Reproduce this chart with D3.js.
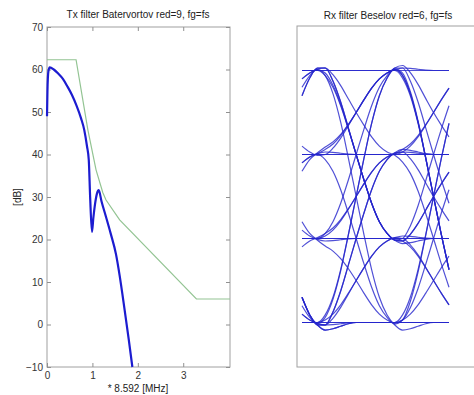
<!DOCTYPE html>
<html>
<head>
<meta charset="utf-8">
<script src="https://cdn.jsdelivr.net/npm/d3@7"></script>
<style>
  body { margin: 0; background: #fff; }
  text { font-family: "Liberation Sans", Arial, sans-serif; }
</style>
</head>
<body>
<div id="app"></div>
<script>
const WIDTH = 474
const HEIGHT = 395

// Tx spectrum (blue) and mask (green), x in units of 8.592 MHz
const specX  = [0, 0.01, 0.03, 0.06, 0.15, 0.25, 0.35, 0.45, 0.55, 0.65, 0.75, 0.82, 0.88, 0.92, 0.95, 0.99, 1.02, 1.06, 1.1, 1.14, 1.2, 1.3, 1.4, 1.52, 1.6, 1.71, 1.8, 1.88]
const specDb = [49, 55, 59.5, 60.5, 60, 59, 57.8, 56, 54, 51.5, 48.5, 45.8, 42, 38.7, 30, 21.8, 25, 28.5, 30.8, 31.6, 29, 25.3, 21.5, 16.5, 11.5, 3.4, -3.5, -10]
const maskX  = [0, 0.64, 0.9, 1.08, 1.23, 1.3, 1.6, 3.29, 4.03]
const maskDb = [62.3, 62.3, 45.8, 36.4, 31, 29.3, 24.6, 6, 6]
const xTicks = [0, 1, 2, 3]
const yTicks = [-10, 0, 10, 20, 30, 40, 50, 60, 70]

// Rx eye diagram: 4-PAM levels, symbol stream (level index), filter step response sampled every 0.1 symbol
const levels = [-3, -1, 1, 3]
const symbols = [3,3,3,3,3,0,2,1,1,1,1,0,0,0,0,3,1,2,2,2,2,3,0,0,3,1,0,2,3,3,1,3,2,0,1,0,3,2,3,0,0,1,2,3,1,1,3,0,2,2,0,3,1,2,3,0,0,0,0,0,1,1,1,1,2,2,2,2,2]
const stepResp = [0, 0.03, 0.10, 0.21, 0.35, 0.50, 0.65, 0.79, 0.90, 0.97, 1.01, 1.03, 1.025, 1.015, 1.005, 1.0]
const SPS = 10

const svg = d3.select('#app').append('svg')
  .attr('width', WIDTH)
  .attr('height', HEIGHT)
  .style('background', '#fff')

// ---------- left: Tx filter ----------
const x = d3.scaleLinear().domain([0, 4.03]).range([47, 230])
const y = d3.scaleLinear().domain([-10, 70]).range([367, 27])

const left = svg.append('g')

left.append('rect')
  .attr('x', x(0)).attr('y', y(70))
  .attr('width', x(4.03) - x(0)).attr('height', y(-10) - y(70))
  .attr('fill', 'none').attr('stroke', '#a0a0a0')

const styleAxis = g => {
  g.select('.domain').remove()
  g.selectAll('.tick line').attr('stroke', '#909090')
  g.selectAll('.tick text').attr('fill', '#333').style('font-size', '10px')
}

left.append('g').attr('transform', `translate(0,${y(-10)})`)
  .call(d3.axisBottom(x).tickValues(xTicks).tickFormat(d3.format('d')).tickSize(-4).tickPadding(5))
  .call(styleAxis)
left.append('g').attr('transform', `translate(0,${y(70)})`)
  .call(d3.axisTop(x).tickValues(xTicks).tickSize(-4).tickFormat(''))
  .call(styleAxis)
left.append('g').attr('transform', `translate(${x(0)},0)`)
  .call(d3.axisLeft(y).tickValues(yTicks).tickFormat(d3.format('d')).tickSize(-4).tickPadding(4))
  .call(styleAxis)
left.append('g').attr('transform', `translate(${x(4.03)},0)`)
  .call(d3.axisRight(y).tickValues(yTicks).tickSize(-4).tickFormat(''))
  .call(styleAxis)

const line = d3.line().x(d => x(d[0])).y(d => y(d[1]))

left.append('path')
  .datum(d3.zip(maskX, maskDb))
  .attr('d', line)
  .attr('fill', 'none')
  .attr('stroke', '#93c493')
  .attr('stroke-width', 1.2)

left.append('path')
  .datum(d3.zip(specX, specDb))
  .attr('d', line.curve(d3.curveMonotoneX))
  .attr('fill', 'none')
  .attr('stroke', '#1c1cd0')
  .attr('stroke-width', 2.2)

left.append('text')
  .attr('x', 138).attr('y', 18)
  .attr('text-anchor', 'middle')
  .style('font-size', '10px').attr('fill', '#222')
  .text('Tx filter Batervortov red=9, fg=fs')

left.append('text')
  .attr('transform', 'translate(21,197) rotate(-90)')
  .attr('text-anchor', 'middle')
  .style('font-size', '10px').attr('fill', '#222')
  .text('[dB]')

left.append('text')
  .attr('x', 138).attr('y', 392)
  .attr('text-anchor', 'middle')
  .style('font-size', '10px').attr('fill', '#222')
  .text('* 8.592 [MHz]')

// ---------- right: Rx eye diagram ----------
const ex = d3.scaleLinear().domain([0.8, 2.7]).range([302, 449])
const ey = d3.scaleLinear().domain([-4.06, 4.06]).range([367, 26])

const stepAt = i => i < 0 ? 0 : i >= stepResp.length ? 1 : stepResp[i]
const signalAt = n => {
  let v = levels[symbols[0]]
  for (let k = 1; k < symbols.length; k++)
    v += (levels[symbols[k]] - levels[symbols[k - 1]]) * stepAt(n - SPS * (k - 1))
  return v
}
const nTraces = Math.floor((symbols.length - 4) / 2) + 1
const traces = d3.range(nTraces).map(m =>
  d3.range(8, 28).map(j => ({ ph: j / SPS, v: signalAt(2 * SPS * m + j) })))

const right = svg.append('g')

right.append('rect')
  .attr('x', 297).attr('y', ey(4.06))
  .attr('width', 184).attr('height', ey(-4.06) - ey(4.06))
  .attr('fill', 'none').attr('stroke', '#a0a0a0')

right.append('g')
  .selectAll('path')
  .data(traces)
  .enter()
.append('path')
  .attr('d', d3.line().x(d => ex(d.ph)).y(d => ey(d.v)).curve(d3.curveMonotoneX))
  .attr('fill', 'none')
  .attr('stroke', '#2424cc')
  .attr('stroke-width', 1.2)
  .attr('stroke-opacity', 0.8)

right.append('text')
  .attr('x', 388).attr('y', 19)
  .attr('text-anchor', 'middle')
  .style('font-size', '10px').attr('fill', '#222')
  .text('Rx filter Beselov red=6, fg=fs')
</script>
</body>
</html>
